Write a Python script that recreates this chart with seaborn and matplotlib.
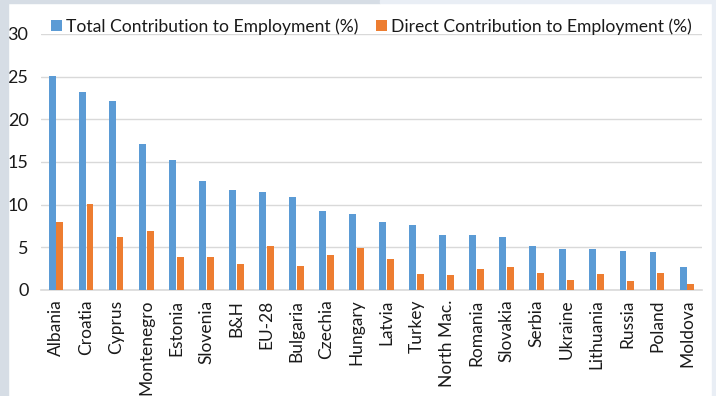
import matplotlib
matplotlib.use("Agg")
import matplotlib.pyplot as plt
from matplotlib.patches import Rectangle
import pandas as pd
import seaborn as sns

countries = ["Albania", "Croatia", "Cyprus", "Montenegro", "Estonia", "Slovenia",
             "B&H", "EU-28", "Bulgaria", "Czechia", "Hungary", "Latvia", "Turkey",
             "North Mac.", "Romania", "Slovakia", "Serbia", "Ukraine", "Lithuania",
             "Russia", "Poland", "Moldova"]
total_contribution = [25.1, 23.2, 22.1, 17.1, 15.2, 12.8, 11.7, 11.5, 10.9, 9.3, 8.9,
                      8.0, 7.6, 6.5, 6.4, 6.2, 5.2, 4.8, 4.8, 4.6, 4.4, 2.7]
direct_contribution = [8.0, 10.1, 6.2, 6.9, 3.9, 3.9, 3.1, 5.1, 2.8, 4.1, 4.9,
                       3.6, 1.9, 1.7, 2.5, 2.7, 2.0, 1.2, 1.9, 1.0, 2.0, 0.7]
series_names = ["Total Contribution to Employment (%)",
                "Direct Contribution to Employment (%)"]
y_ticks = [0, 5, 10, 15, 20, 25, 30]

df = pd.DataFrame({
    "country": countries * 2,
    "series": [series_names[0]] * len(countries) + [series_names[1]] * len(countries),
    "value": total_contribution + direct_contribution,
})

sns.set_theme(style="white")
plt.rcParams["font.family"] = ["Lato", "DejaVu Sans"]

W, H = 716, 396
fig = plt.figure(figsize=(W / 100, H / 100), dpi=100, facecolor="white")

# light frame around the chart area
fig.patches.append(Rectangle((0, 0), 8 / W, 1, transform=fig.transFigure,
                             color="#D6DDE5", zorder=0))
fig.patches.append(Rectangle((8 / W, 1 - 3 / H), 372 / W, 3 / H, transform=fig.transFigure,
                             color="#D6DDE5", zorder=0))
fig.patches.append(Rectangle((380 / W, 1 - 3 / H), 340 / W, 3 / H, transform=fig.transFigure,
                             color="#E9EEF5", zorder=0))
fig.patches.append(Rectangle((712 / W, 0), 4 / W, 1, transform=fig.transFigure,
                             color="#E9EEF5", zorder=0))

ax = fig.add_axes([41 / W, 1 - 290 / H, 661 / W, 256 / H])
ax.set_facecolor("none")

sns.barplot(data=df, x="country", y="value", hue="series", order=countries,
            hue_order=series_names, palette=["#5B9BD5", "#ED7D31"], saturation=1,
            width=0.52, gap=0.12, linewidth=0, ax=ax, zorder=3)

ax.set_ylim(0, 30)
ax.set_xlim(-0.5, len(countries) - 0.5)
ax.set_yticks(y_ticks)
ax.set_yticklabels([str(t) for t in y_ticks], fontsize=13, color="#1a1a1a")
ax.set_xticks(range(len(countries)))
ax.set_xticklabels(countries, rotation=90, fontsize=12.5, color="#1a1a1a")
ax.tick_params(axis="both", length=0)
ax.tick_params(axis="y", pad=9)
ax.tick_params(axis="x", pad=7)
ax.set_xlabel("")
ax.set_ylabel("")

ax.yaxis.grid(True, color="#D9D9D9", linewidth=1.0, zorder=0)
ax.set_axisbelow(True)
for side in ["left", "right", "top"]:
    ax.spines[side].set_visible(False)
ax.spines["bottom"].set_color("#D9D9D9")
ax.spines["bottom"].set_linewidth(1.2)

leg = ax.legend(loc="center", bbox_to_anchor=(0.5, 1.03), ncol=2, frameon=False,
                fontsize=12.6, handlelength=0.6, handleheight=0.6, handletextpad=0.25,
                columnspacing=1.0, borderaxespad=0)
for t in leg.get_texts():
    t.set_color("#1a1a1a")

fig.savefig("out.png", dpi=100, facecolor=fig.get_facecolor())
